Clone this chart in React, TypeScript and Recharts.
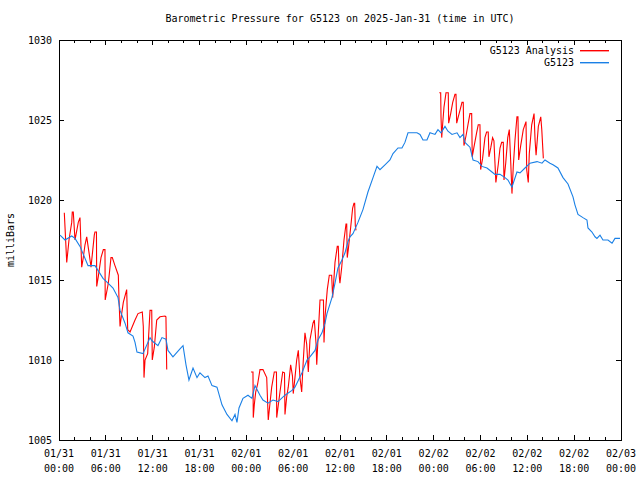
import React from 'react';
import { LineChart, Line, XAxis, YAxis, ReferenceArea, Legend } from 'recharts';

const FONT = '"DejaVu Sans Mono", "Liberation Mono", monospace';

const chartTitle = 'Barometric Pressure for G5123 on 2025-Jan-31 (time in UTC)';
const yAxisTitle = 'milliBars';

// hours since 01/31 00:00 UTC
const xTicks = [0, 2, 4, 6, 8, 10, 12, 14, 16, 18, 20, 22, 24, 26, 28, 30, 32, 34, 36, 38, 40, 42, 44, 46, 48, 50, 52, 54, 56, 58, 60, 62, 64, 66, 68, 70, 72];
const xLabelDates = ['01/31', '01/31', '01/31', '01/31', '02/01', '02/01', '02/01', '02/01', '02/02', '02/02', '02/02', '02/02', '02/03'];
const xLabelTimes = ['00:00', '06:00', '12:00', '18:00', '00:00', '06:00', '12:00', '18:00', '00:00', '06:00', '12:00', '18:00', '00:00'];
const yTicks = [1005, 1010, 1015, 1020, 1025, 1030];

// G5123 (blue)
const blueHours = [
  0.13, 0.77, 1.63, 2.05, 2.69, 3.72, 4.61, 5.0, 5.64, 6.28,
  6.92, 7.56, 7.82, 8.46, 8.84, 9.48, 9.74, 9.99, 10.76, 11.66,
  11.91, 12.68, 13.19, 13.71, 13.96, 14.6, 15.5, 15.89, 16.27, 16.65,
  17.17, 17.68, 18.06, 18.7, 19.09, 19.6, 20.24, 20.88, 21.52, 22.16,
  22.55, 22.8, 23.06, 23.57, 24.21, 24.72, 25.11, 25.75, 26.13, 26.77,
  27.41, 28.06, 28.95, 29.85, 30.23, 31.13, 31.77, 32.15, 32.8, 33.18,
  33.69, 34.08, 34.33, 34.97, 35.36, 35.74, 36.25, 36.64, 37.02, 37.28,
  37.66, 38.3, 38.94, 39.58, 40.23, 40.74, 41.12, 41.76, 42.4, 42.79,
  43.43, 43.94, 44.32, 44.71, 45.35, 45.86, 46.25, 46.63, 47.14, 47.53,
  48.17, 48.55, 48.94, 49.45, 49.83, 50.35, 50.99, 51.37, 51.76, 52.01,
  52.65, 53.04, 53.68, 54.19, 54.83, 55.47, 55.85, 56.5, 57.14, 57.52,
  58.03, 58.67, 59.06, 59.7, 60.34, 61.24, 61.88, 62.26, 62.9, 63.29,
  63.92, 64.57, 65.21, 65.85, 66.1, 66.49, 67.13, 67.64, 67.77, 68.28,
  68.67, 68.92, 69.31, 69.69, 70.33, 70.85, 71.23, 71.61, 71.87,
];
const blueMb = [
  1017.8, 1017.5, 1017.75, 1017.6, 1017.1, 1015.9, 1015.9, 1015.6, 1015.1, 1014.8,
  1014.5, 1013.9, 1013.1, 1012.3, 1011.7, 1011.5, 1011.1, 1010.5, 1010.4, 1011.4,
  1011.2, 1010.9, 1011.4, 1011.3, 1010.6, 1010.2, 1010.7, 1010.9, 1009.7, 1008.75,
  1009.5, 1008.9, 1009.2, 1008.9, 1009.0, 1008.4, 1008.3, 1007.2, 1006.6, 1006.2,
  1006.6, 1006.1, 1007.0, 1007.6, 1007.8, 1007.6, 1008.4, 1007.8, 1007.5, 1007.3,
  1007.5, 1007.4, 1007.8, 1008.1, 1008.3, 1009.2, 1010.0, 1010.2, 1010.6, 1011.25,
  1011.7, 1012.3, 1012.9, 1013.9, 1014.8, 1015.75, 1016.25, 1016.7, 1017.4, 1017.7,
  1017.9, 1018.6, 1019.4, 1020.5, 1021.4, 1022.1, 1021.9, 1022.2, 1022.5, 1022.9,
  1023.25, 1023.25, 1023.6, 1024.2, 1024.2, 1024.2, 1024.1, 1023.75, 1023.75, 1024.2,
  1024.1, 1024.4, 1024.2, 1024.6, 1024.3, 1024.1, 1024.2, 1023.9, 1024.1, 1023.6,
  1023.3, 1022.5, 1022.4, 1022.1, 1022.0, 1021.75, 1021.6, 1021.6, 1021.4, 1021.25,
  1020.8, 1021.75, 1021.7, 1022.0, 1022.3, 1022.4, 1022.3, 1022.5, 1022.3, 1022.2,
  1022.0, 1021.4, 1021.0, 1020.2, 1019.7, 1019.1, 1018.9, 1018.75, 1018.25, 1018.0,
  1017.7, 1017.6, 1017.8, 1017.5, 1017.5, 1017.3, 1017.6, 1017.6, 1017.6,
];

// G5123 Analysis (red); null = gap between runs
const redHours = [
  0.68, 0.99, 1.28, 1.63, 1.7, 1.83, 2.05, 2.47, 2.69, 2.91,
  3.11, 3.33, 3.55, 3.88, 4.1, 4.52, 4.61, 4.8, 4.83, 5.03,
  5.38, 5.68, 5.89, 5.92, 6.32, 6.66, 6.83, 7.17, 7.6, 7.69,
  7.82, 8.03, 8.24, 8.67, 8.8, 9.1, 9.74, 10.12, 10.67, 10.8,
  10.89, 11.02, 11.36, 11.66, 11.88, 11.95, 12.21, 12.52, 12.94, 13.58,
  13.7, 13.8,
  19,
  24.6, 24.85, 24.89, 25.02, 25.2, 25.45, 25.75, 26.13, 26.61, 26.81,
  27.03, 27.25, 27.58, 27.86, 27.89, 28.31, 28.66, 28.89, 28.95, 29.17,
  29.37, 29.68, 29.91, 30.01, 30.23, 30.45, 30.66, 30.87, 31.09, 31.3,
  31.51, 31.73, 31.94, 32.15, 32.54, 32.71, 32.93, 33.02, 33.22, 33.44,
  33.88, 33.95, 34.08, 34.37, 34.63, 34.93, 35.06, 35.36, 35.65, 35.78,
  35.91, 35.99, 36.22, 36.51, 36.77, 36.86, 36.93, 37.06, 37.37, 37.62,
  37.79, 37.88, 37.96, 38.05,
  44,
  48.72, 48.9, 48.94, 49.03, 49.16, 49.32, 49.58, 49.87, 49.92, 50.18,
  50.44, 50.73, 50.86, 50.95, 51.15, 51.37, 51.63, 51.79, 51.88, 52.14,
  52.43, 52.65, 52.87, 52.94, 53.16, 53.5, 53.71, 53.93, 54.02, 54.27,
  54.57, 54.78, 54.99, 55.08, 55.33, 55.55, 55.72, 55.97, 56.27, 56.5,
  56.71, 56.92, 57.01, 57.23, 57.49, 57.69, 57.87, 58.03, 58.2, 58.42,
  58.67, 58.8, 58.89, 59.15, 59.48, 59.83, 59.92, 60.12, 60.25, 60.56,
  60.86, 60.99, 61.12, 61.41, 61.72, 61.85, 62.05,
];
const redMb = [
  1019.2, 1016.1, 1017.5, 1018.6, 1019.25, 1019.25, 1017.5, 1018.6, 1018.9, 1015.8,
  1016.4, 1017.2, 1017.7, 1016.6, 1015.8, 1017.8, 1018.0, 1018.0, 1014.6, 1015.2,
  1016.4, 1016.9, 1016.9, 1013.75, 1014.8, 1016.4, 1016.4, 1015.9, 1015.3, 1013.75,
  1012.1, 1012.9, 1013.6, 1014.4, 1011.9, 1011.75, 1012.5, 1012.9, 1013.0, 1012.1,
  1008.9, 1010.0, 1010.4, 1013.1, 1013.1, 1010.0, 1010.8, 1012.5, 1012.7, 1012.75,
  1012.7, 1009.4,
  null,
  1009.25, 1009.25, 1006.4, 1007.2, 1008.0, 1008.5, 1009.4, 1009.4, 1008.9, 1006.25,
  1007.3, 1008.3, 1009.25, 1009.25, 1006.4, 1008.0, 1009.25, 1009.2, 1006.6, 1007.7,
  1008.3, 1009.7, 1009.0, 1007.9, 1008.9, 1010.0, 1010.6, 1008.9, 1008.0, 1010.0,
  1011.7, 1011.0, 1009.25, 1011.25, 1012.3, 1012.5, 1011.0, 1009.7, 1011.7, 1013.75,
  1013.75, 1011.1, 1012.7, 1014.4, 1015.3, 1015.3, 1013.9, 1016.1, 1017.1, 1017.1,
  1015.2, 1014.8, 1015.8, 1017.5, 1018.5, 1018.5, 1016.4, 1016.9, 1018.3, 1019.5,
  1019.8, 1019.8, 1018.4, 1018.1,
  null,
  1026.7, 1026.7, 1025.2, 1023.9, 1024.8, 1025.8, 1026.7, 1026.7, 1024.8, 1025.4,
  1026.1, 1026.6, 1026.6, 1024.8, 1025.2, 1025.6, 1026.1, 1026.1, 1023.4, 1024.0,
  1024.8, 1025.4, 1025.4, 1022.7, 1023.3, 1024.2, 1024.7, 1024.7, 1021.9, 1022.6,
  1023.9, 1024.25, 1024.25, 1022.7, 1023.3, 1023.9, 1023.7, 1021.1, 1022.2, 1023.25,
  1023.6, 1023.6, 1021.25, 1022.3, 1023.9, 1024.4, 1022.4, 1020.4, 1022.1, 1023.75,
  1025.2, 1025.2, 1022.5, 1023.4, 1024.4, 1024.9, 1021.9, 1021.1, 1022.9, 1024.7,
  1025.4, 1023.75, 1022.8, 1024.6, 1025.2, 1024.4, 1022.6,
];

const RED = '#ff0000';
const BLUE = '#1a80e6';

const legendItems = [
  { name: 'G5123 Analysis', color: RED },
  { name: 'G5123', color: BLUE },
];

const blueData = blueHours.map((h, i) => ({ h, v: blueMb[i] }));
const redData = redHours.map((h, i) => ({ h, v: redMb[i] }));

// plot box edges in pixels
const PLOT_TOP = 40;
const PLOT_BOTTOM = 440;
const PLOT_LEFT = 59;
const PLOT_RIGHT = 621;

const XTick = (props: any) => {
  const { x, payload } = props;
  const h = payload.value;
  const major = h % 6 === 0;
  const len = major ? 5 : 3;
  const inner = h > 0 && h < 72;
  const idx = h / 6;
  return (
    <g>
      {inner && <line x1={x} x2={x} y1={PLOT_BOTTOM} y2={PLOT_BOTTOM - len} stroke="#000" shapeRendering="crispEdges" />}
      {inner && <line x1={x} x2={x} y1={PLOT_TOP} y2={PLOT_TOP + len} stroke="#000" shapeRendering="crispEdges" />}
      {major && (
        <text x={x} y={457} textAnchor="middle" fontFamily={FONT} fontSize={10} fill="#000">
          {xLabelDates[idx]}
        </text>
      )}
      {major && (
        <text x={x} y={472} textAnchor="middle" fontFamily={FONT} fontSize={10} fill="#000">
          {xLabelTimes[idx]}
        </text>
      )}
    </g>
  );
};

const YTick = (props: any) => {
  const { y, payload } = props;
  const inner = payload.value > 1005 && payload.value < 1030;
  return (
    <g>
      {inner && <line x1={PLOT_LEFT} x2={PLOT_LEFT + 5} y1={y} y2={y} stroke="#000" shapeRendering="crispEdges" />}
      {inner && <line x1={PLOT_RIGHT} x2={PLOT_RIGHT - 5} y1={y} y2={y} stroke="#000" shapeRendering="crispEdges" />}
      <text x={52} y={y + 4} textAnchor="end" fontFamily={FONT} fontSize={10} fill="#000">
        {payload.value}
      </text>
    </g>
  );
};

const YTitle = () => (
  <text x={14} y={240} transform="rotate(-90 14 240)" textAnchor="middle" fontFamily={FONT} fontSize={10} fill="#000">
    {yAxisTitle}
  </text>
);

const renderLegend = () => (
  <div style={{ fontFamily: FONT, fontSize: 10, lineHeight: '12px', color: '#000' }}>
    {legendItems.map(item => (
      <div key={item.name} style={{ display: 'flex', justifyContent: 'flex-end', alignItems: 'center', height: 12 }}>
        <span style={{ whiteSpace: 'pre' }}>{item.name}</span>
        <svg width={36} height={12} style={{ display: 'block' }}>
          <rect x={6} y={5} width={29} height={1.4} fill={item.color} />
        </svg>
      </div>
    ))}
  </div>
);

export default function App() {
  return (
    <div style={{ position: 'absolute', left: 0, top: 0, width: 640, height: 480, background: '#fff' }}>
      <div
        style={{
          position: 'absolute',
          left: PLOT_LEFT,
          width: PLOT_RIGHT - PLOT_LEFT,
          top: 13,
          textAlign: 'center',
          fontFamily: FONT,
          fontSize: 10,
          lineHeight: '12px',
          color: '#000',
          whiteSpace: 'pre',
        }}
      >
        {chartTitle}
      </div>
      <LineChart width={640} height={480} margin={{ top: PLOT_TOP, right: 640 - PLOT_RIGHT, bottom: 0, left: 0 }}>
        <XAxis
          type="number"
          dataKey="h"
          domain={[0, 72]}
          ticks={xTicks}
          interval={0}
          height={40}
          tickLine={false}
          axisLine={false}
          tick={XTick}
          allowDataOverflow
        />
        <YAxis
          type="number"
          domain={[1005, 1030]}
          ticks={yTicks}
          interval={0}
          width={PLOT_LEFT}
          tickLine={false}
          axisLine={false}
          tick={YTick}
          label={YTitle}
          allowDataOverflow
        />
        <Legend
          layout="horizontal"
          verticalAlign="middle"
          align="center"
          content={renderLegend}
          wrapperStyle={{ top: 45, right: 30, left: 'auto', width: 200 }}
        />
        <Line
          data={redData}
          dataKey="v"
          name="G5123 Analysis"
          stroke={RED}
          strokeWidth={1.1}
          dot={false}
          activeDot={false}
          connectNulls={false}
          isAnimationActive={false}
        />
        <Line
          data={blueData}
          dataKey="v"
          name="G5123"
          stroke={BLUE}
          strokeWidth={1.1}
          dot={false}
          activeDot={false}
          isAnimationActive={false}
        />
        <ReferenceArea
          x1={0}
          x2={72}
          y1={1005}
          y2={1030}
          fill="none"
          fillOpacity={0}
          stroke="#000"
          strokeWidth={1}
          shapeRendering="crispEdges"
        />
      </LineChart>
    </div>
  );
}
